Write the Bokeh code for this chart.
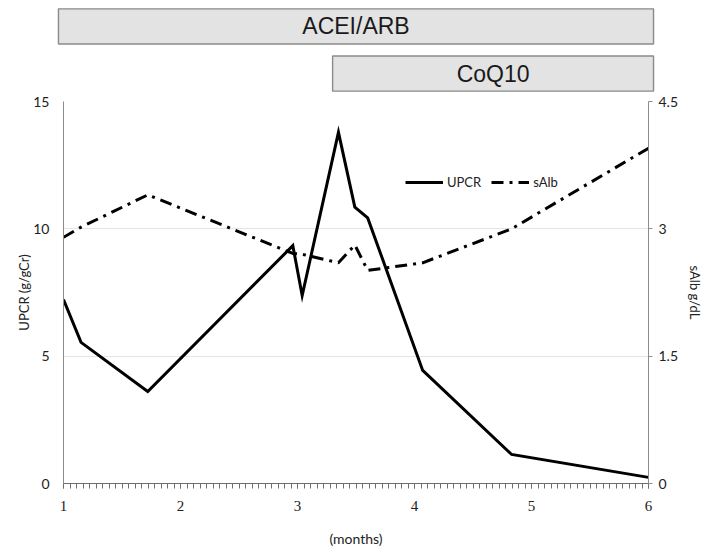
from bokeh.plotting import figure
from bokeh.models import (Range1d, FactorRange, LinearAxis, FixedTicker,
                          ColumnDataSource, Legend, LegendItem)
from bokeh.core.properties import value
from bokeh.embed import file_html
from bokeh.resources import INLINE

# ---------------- data ----------------
months = [1.0, 1.15, 1.72, 2.96, 3.04, 3.35, 3.49, 3.60, 4.07, 4.83, 6.0]
upcr = [7.22, 5.54, 3.61, 9.34, 7.38, 13.79, 10.85, 10.43, 4.44, 1.14, 0.24]
salb = [2.90, 3.02, 3.40, 2.71, 2.70, 2.60, 2.81, 2.51, 2.60, 3.00, 3.95]

treatments = ["ACEI/ARB", "CoQ10"]
treat_start = [0.957, 3.30]
treat_end = [6.043, 6.043]

month_ticks = [1, 2, 3, 4, 5, 6]
minor_per_month = 18
upcr_ticks = [0, 5, 10, 15]
upcr_grid = [5, 10, 15]
alb_ticks = [0, 1.5, 3, 4.5]
alb_tick_labels = ["0", "1.5", "3", "4.5"]

# ---------------- layout constants ----------------
W = 707
TOP_H = 94
BOT_H = 550 - TOP_H
FRAME_L = 63
FRAME_R = 59
FRAME_W = W - FRAME_L - FRAME_R
x_lo, x_hi = month_ticks[0], month_ticks[-1]
unit = FRAME_W / (x_hi - x_lo)

SANS = "Lato"

# ---------------- top: treatment bars (separate root) ----------------
top = figure(width=W, height=TOP_H, output_backend="svg", toolbar_location=None,
             x_range=Range1d(x_lo - FRAME_L / unit, x_hi + FRAME_R / unit),
             y_range=FactorRange(factors=treatments[::-1], range_padding=-0.058,
                                 range_padding_units="absolute"),
             min_border=0, min_border_top=5, outline_line_color=None)
top.axis.visible = False
top.grid.visible = False
tsrc = ColumnDataSource(dict(name=treatments, left=treat_start, right=treat_end,
                             mid=[(a + b) / 2 for a, b in zip(treat_start, treat_end)]))
top.hbar(y="name", left="left", right="right", height=0.743, source=tsrc,
         fill_color="#e3e3e3", line_color="#8a8a8a", line_width=1.4)
top.text(x="mid", y="name", text="name", source=tsrc, text_align="center",
         text_baseline="middle", text_font=value("Liberation Sans"),
         text_font_size="23px", text_color="#1a1a1a")

# ---------------- bottom: main chart ----------------
p = figure(width=W, height=BOT_H, output_backend="svg", toolbar_location=None,
           x_range=Range1d(x_lo, x_hi), y_range=Range1d(0, 15),
           min_border_left=FRAME_L, min_border_right=FRAME_R,
           min_border_top=7, min_border_bottom=67, outline_line_color=None)
p.extra_y_ranges = {"alb": Range1d(0, 4.5)}

r1 = p.line(months, upcr, line_color="black", line_width=3, line_join="miter")
r2 = p.line(months, salb, y_range_name="alb", line_color="black", line_width=3,
            line_dash="12 6 3 6")

# x axis
minor = [x_lo + i / minor_per_month for i in range((x_hi - x_lo) * minor_per_month + 1)]
xa = p.xaxis[0]
xa.ticker = FixedTicker(ticks=month_ticks, minor_ticks=minor)
xa.axis_line_color = "#6e6e6e"
xa.major_tick_line_color = "#6e6e6e"
xa.minor_tick_line_color = "#6e6e6e"
xa.major_tick_in = 0
xa.major_tick_out = 5
xa.minor_tick_in = 0
xa.minor_tick_out = 5
xa.major_label_text_font = "Liberation Serif"
xa.major_label_text_font_size = "15px"
xa.major_label_text_color = "#222222"
xa.major_label_standoff = 12
xa.axis_label = "(months)"
xa.axis_label_text_font = SANS
xa.axis_label_text_font_size = "14px"
xa.axis_label_text_font_style = "normal"
xa.axis_label_text_color = "#222222"
xa.axis_label_standoff = 16

# left axis
ya = p.yaxis[0]
ya.ticker = FixedTicker(ticks=upcr_ticks)
ya.axis_line_color = "#8c8c8c"
ya.major_tick_line_color = None
ya.minor_tick_line_color = None
ya.major_label_text_font = SANS
ya.major_label_text_font_size = "14px"
ya.major_label_text_color = "#222222"
ya.major_label_standoff = 8
ya.axis_label = "UPCR (g/gCr)"
ya.axis_label_text_font = SANS
ya.axis_label_text_font_size = "13px"
ya.axis_label_text_font_style = "normal"
ya.axis_label_text_color = "#222222"
ya.axis_label_standoff = -2

# right axis
ra = LinearAxis(y_range_name="alb", ticker=FixedTicker(ticks=alb_ticks),
                major_label_overrides={t: s for t, s in zip(alb_ticks, alb_tick_labels)})
ra.axis_line_color = "#8c8c8c"
ra.major_tick_line_color = "#8c8c8c"
ra.major_tick_in = 0
ra.major_tick_out = 4
ra.minor_tick_line_color = None
ra.major_label_text_font = SANS
ra.major_label_text_font_size = "14px"
ra.major_label_text_color = "#222222"
ra.major_label_standoff = 6
ra.axis_label = "sAlb g/dL"
ra.axis_label_text_font = SANS
ra.axis_label_text_font_size = "13px"
ra.axis_label_text_font_style = "normal"
ra.axis_label_text_color = "#222222"
ra.axis_label_standoff = 6
p.add_layout(ra, "right")

# grid
p.xgrid.visible = False
p.ygrid.ticker = FixedTicker(ticks=upcr_grid)
p.ygrid.grid_line_color = "#e4e4e4"
p.ygrid.grid_line_width = 1

# legend
legend = Legend(items=[LegendItem(label="UPCR", renderers=[r1]),
                       LegendItem(label="sAlb", renderers=[r2])],
                orientation="horizontal", location=(342, 293),
                border_line_color=None, background_fill_alpha=0,
                padding=0, margin=0, glyph_width=38, glyph_height=16,
                label_standoff=4, spacing=10,
                label_text_font=SANS, label_text_font_size="13px",
                label_text_color="#222222")
p.add_layout(legend)

open("out.html", "w").write(file_html([top, p], INLINE))
